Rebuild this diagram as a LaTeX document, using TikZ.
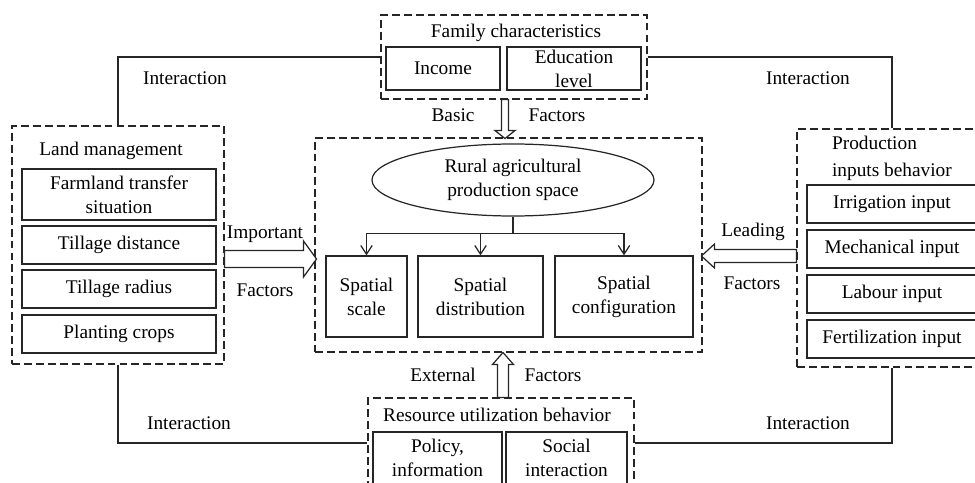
\documentclass[tikz,border=0pt]{standalone}
\usepackage{tikz}
\usepackage{fontspec}
\setmainfont{Liberation Serif}
\usetikzlibrary{shapes.geometric}
\usetikzlibrary{arrows.meta}
\usetikzlibrary{calc}
\tikzset{
	group/.style={
		draw,
		dash pattern=on 4.5pt off 2.3pt,
		line width=0.6pt,
		inner sep=0
	},
	item/.style={
		draw,
		line width=0.7pt,
		align=center,
		inner sep=0
	},
	tag/.style={
		inner sep=1pt,
		align=center
	},
	link/.style={
		line width=0.7pt
	}
}
\newcommand{\pxu}{0.02cm}
% hollow block arrow: start, angle, length, half shaft, half head, head length
\newcommand{\blockarrow}[6]{%
	\draw[line width=0.7pt,fill=white,shift={#1},rotate=#2] (0,-#4) -- ({#3-#6},-#4) -- ({#3-#6},-#5) -- (#3,0) -- ({#3-#6},#5) -- ({#3-#6},#4) -- (0,#4) -- cycle;}

\begin{document}
\begin{tikzpicture}[x=0.02cm,y=-0.02cm,draw=black!85,font=\fontsize{11}{13.6}\selectfont]
	\useasboundingbox (0,0) rectangle (975,483);
	\clip (0,0) rectangle (975,483);

	% (family)
	\node[group,minimum width=266*\pxu,minimum height=84*\pxu] (fam) at (514,57) {};
	\node[tag] (famtitle) at (516,33) {Family characteristics};
	\node[item,minimum width=114*\pxu,minimum height=43*\pxu] (income) at (443,68.5) {Income};
	\node[item,minimum width=134*\pxu,minimum height=43*\pxu] (edu) at (574,68.5) {Education\\level};

	% (land)
	\node[group,minimum width=212*\pxu,minimum height=238*\pxu] (land) at (118,245) {};
	\node[tag] (landtitle) at (111,151) {Land management};
	\node[item,minimum width=194*\pxu,minimum height=51*\pxu] (farm) at (119,194.5) {Farmland transfer\\situation};
	\node[item,minimum width=194*\pxu,minimum height=38*\pxu] (dist) at (119,245) {Tillage distance};
	\node[item,minimum width=194*\pxu,minimum height=38*\pxu] (rad) at (119,289) {Tillage radius};
	\node[item,minimum width=194*\pxu,minimum height=38*\pxu] (crops) at (119,334) {Planting crops};

	% (core)
	\node[group,minimum width=387*\pxu,minimum height=214*\pxu] (core) at (508.5,245) {};
	\node[item,ellipse,minimum width=282*\pxu,minimum height=72*\pxu] (space) at (513,180) {Rural agricultural\\production space};
	\node[item,minimum width=81*\pxu,minimum height=81*\pxu] (scale) at (366.5,296.5) {Spatial\\scale};
	\node[item,minimum width=125*\pxu,minimum height=81*\pxu] (distr) at (480.5,296.5) {Spatial\\distribution};
	\node[item,minimum width=138*\pxu,minimum height=81*\pxu] (config) at (624,296.5) {Spatial\\configuration};
	\coordinate (split) at ($(space.south)+(0,17)$);
	\draw[link] (space.south) -- (split);
	\foreach \b in {scale,distr,config}
		\draw[link,-{Straight Barb[length=5pt,width=6.5pt]}] (split) -| (\b.north);

	% (production)
	\node[group,minimum width=190*\pxu,minimum height=238*\pxu] (prod) at (892,248) {};
	\node[tag,anchor=west,align=left] (prodtitle) at (830,158.5) {Production\\[1.5pt]inputs behavior};
	\node[item,minimum width=170*\pxu,minimum height=38*\pxu] (irr) at (892,204) {Irrigation input};
	\node[item,minimum width=170*\pxu,minimum height=38*\pxu] (mech) at (892,249) {Mechanical input};
	\node[item,minimum width=170*\pxu,minimum height=38*\pxu] (lab) at (892,294) {Labour input};
	\node[item,minimum width=170*\pxu,minimum height=38*\pxu] (fert) at (892,339) {Fertilization input};

	% (resource)
	\node[group,minimum width=266*\pxu,minimum height=90*\pxu] (res) at (501,443) {};
	\node[tag] (restitle) at (497,415) {Resource utilization behavior};
	\node[item,minimum width=129*\pxu,minimum height=52*\pxu] (policy) at (437.5,458) {Policy,\\information};
	\node[item,minimum width=121*\pxu,minimum height=52*\pxu] (social) at (566.5,458) {Social\\interaction};

	% interaction lines
	\draw[link] (fam.west) -| (land.north);
	\draw[link] (fam.east) -| (prod.north);
	\draw[link] (land.south) |- (res.west);
	\draw[link] (prod.south) |- (res.east);
	\node[tag] (inttl) at (185,78) {Interaction};
	\node[tag] (inttr) at (808,78) {Interaction};
	\node[tag] (intbl) at (189,423) {Interaction};
	\node[tag] (intbr) at (808,423) {Interaction};

	% factor arrows
	\blockarrow{($(fam.south)+(-9,0)$)}{-90}{39}{3.5}{10}{8}
	\blockarrow{($(res.north)+(2,0)$)}{90}{45}{5.5}{10.5}{12}
	\blockarrow{($(land.east)+(0,14)$)}{0}{92}{8.5}{18}{13}
	\blockarrow{($(prod.west)+(0,8)$)}{180}{95}{6.5}{12}{13}
	\node[tag] (basic) at (453,115) {Basic};
	\node[tag] (basicf) at (557,115) {Factors};
	\node[tag] (imp) at (265,234) {Important};
	\node[tag] (impf) at (265,290) {Factors};
	\node[tag] (lead) at (753,232) {Leading};
	\node[tag] (leadf) at (752,283) {Factors};
	\node[tag] (ext) at (443,375) {External};
	\node[tag] (extf) at (553,375) {Factors};
\end{tikzpicture}
\end{document}
